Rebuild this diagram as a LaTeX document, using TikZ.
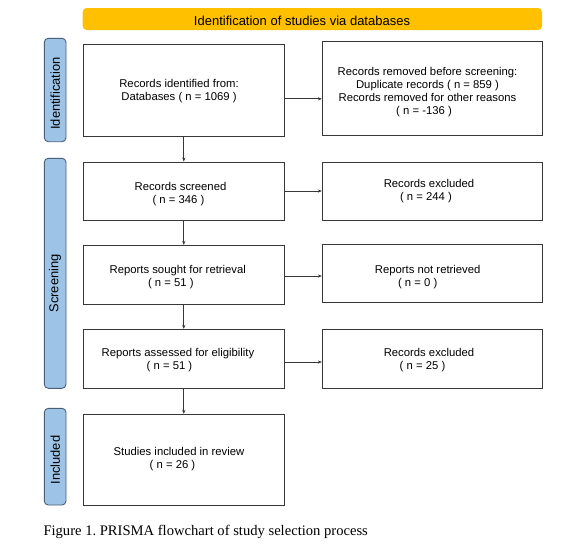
\documentclass[tikz,border=0pt]{standalone}
\usepackage{fontspec}
\setmainfont{Liberation Sans}
\newfontfamily\capfont{Liberation Serif}
\usetikzlibrary{arrows.meta}
\definecolor{phasefill}{RGB}{157,195,230}
\definecolor{phaseline}{RGB}{75,95,120}
\definecolor{banner}{RGB}{255,192,0}
\definecolor{frame}{RGB}{55,55,55}
\frenchspacing
\begin{document}
\begin{tikzpicture}[x=1pt,y=-1pt,
  box/.style={draw=frame, line width=0.9pt, inner sep=0pt, fill=white},
  lbox/.style={box, minimum width=201pt},
  rbox/.style={box, minimum width=219.7pt},
  txt/.style={align=center, inner sep=0pt, text=black, font=\fontsize{11.3}{13}\selectfont},
  phase/.style={draw=phaseline, line width=0.9pt, fill=phasefill, rounded corners=4pt,
    rotate=90, minimum height=21.7pt, inner sep=0pt, font=\fontsize{12.9}{15}\selectfont},
  arr/.style={draw=frame, line width=0.8pt, -{Stealth[length=4pt,width=3.2pt]}}
]
\useasboundingbox (0,0) rectangle (561,544);
\fill[white] (0,0) rectangle (561,544);

% banner
\node[fill=banner, rounded corners=4pt, minimum width=459.3pt, minimum height=22pt, inner sep=0pt] (ban) at (312.35,19) {};
\node[font=\fontsize{13}{15}\selectfont, inner sep=0pt] (bantxt) at (302,20.5) {Identification of studies via databases};

% phase labels
\node[phase, minimum width=103.4pt] (pI) at (55.15,90) {Identification\hspace*{7pt}};
\node[phase, minimum width=230pt] (pS) at (55.15,273.3) {Screening\hspace*{20pt}};
\node[phase, minimum width=96.7pt] (pC) at (55.15,456.65) {Included\hspace*{7pt}};

% boxes
\node[lbox, minimum height=91.7pt] (A) at (183.8,90.15) {};
\node[rbox, minimum height=93.5pt] (B) at (432.15,88.45) {};
\node[lbox, minimum height=58pt] (S) at (183.8,191) {};
\node[rbox, minimum height=58pt] (E1) at (432.15,191) {};
\node[lbox, minimum height=59pt] (R) at (183.8,274.8) {};
\node[rbox, minimum height=58.4pt] (N) at (432.15,273.5) {};
\node[lbox, minimum height=59pt] (El) at (183.8,358.8) {};
\node[rbox, minimum height=59pt] (E2) at (432.15,358.8) {};
\node[lbox, minimum height=91.2pt] (I) at (183.8,459.9) {};

% texts
\node[txt] (tA) at (179,91.5) {Records identified from:\\Databases ( n = 1069 )};
\node[txt] (tB) at (427.5,92) {Records removed before screening:\\Duplicate records ( n = 859 )\hspace*{14pt}\\Records removed for other reasons\\( n = -136 )\hspace*{7pt}};
\node[txt] (tS) at (180.5,194.5) {Records screened\\( n = 346 )\hspace*{4pt}};
\node[txt] (tE1) at (429,191.5) {Records excluded\\( n = 244 )\hspace*{6pt}};
\node[txt] (tR) at (177.8,277.5) {Reports sought for retrieval\\( n = 51 )\hspace*{14pt}};
\node[txt] (tN) at (427.7,277.5) {Reports not retrieved\\( n = 0 )\hspace*{20pt}};
\node[txt] (tEl) at (178,360.5) {Reports assessed for eligibility\\( n = 51 )\hspace*{17pt}};
\node[txt] (tE2) at (429,360.5) {Records excluded\\( n = 25 )\hspace*{13pt}};
\node[txt] (tI) at (179,459.5) {Studies included in review\\( n = 26 )\hspace*{13pt}};

% connectors
\draw[arr] (A.south) -- (S.north);
\draw[arr] (S.south) -- (R.north);
\draw[arr] (R.south) -- (El.north);
\draw[arr] (El.south) -- (I.north);
\draw[arr] ([yshift=-8.7pt]A.east) -- ([yshift=-8.7pt]A.east -| B.west);
\draw[arr] (S.east) -- (S.east -| E1.west);
\draw[arr] ([yshift=-1.2pt]R.east) -- ([yshift=-1.2pt]R.east -| N.west);
\draw[arr] ([yshift=-3.2pt]El.east) -- ([yshift=-3.2pt]El.east -| E2.west);

% caption
\node[anchor=base west, inner sep=0pt, font=\capfont\fontsize{14.6}{17}\selectfont] (cap) at (43.3,535.5) {Figure 1. PRISMA flowchart of study selection process};
\end{tikzpicture}
\end{document}
